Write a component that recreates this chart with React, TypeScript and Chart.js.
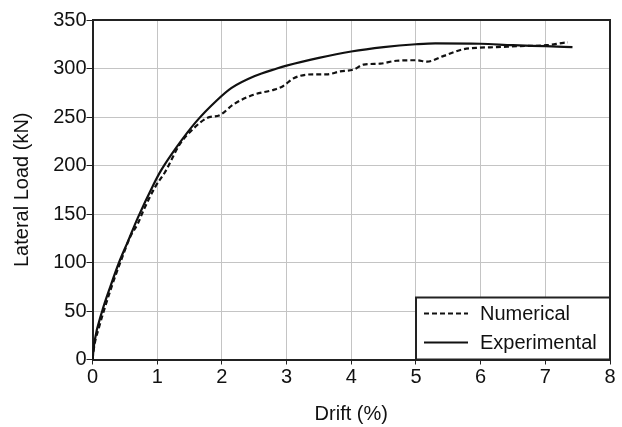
import React, { useEffect, useRef } from "react";
import { Chart, registerables } from "chart.js";

Chart.register(...registerables);

const numDrift = [0, 0.03, 0.1, 0.175, 0.3, 0.43, 0.58, 0.7, 0.79, 0.97, 1.12, 1.35, 1.56, 1.77, 1.97, 2.18, 2.49, 2.8, 2.95, 3.11, 3.42, 3.62, 3.83, 4.04, 4.19, 4.45, 4.7, 5.01, 5.17, 5.43, 5.74, 5.99, 6.25, 6.56, 7.02, 7.28, 7.35];
const numLoad = [0, 15, 33, 50, 76, 100, 126, 140, 154, 178, 193, 222, 238, 249, 252, 263, 273, 278, 282, 290, 294, 294, 297, 299, 304, 305, 308, 308.5, 307, 313, 320, 321.5, 322, 323, 324, 326.5, 327];

const expDrift = [0, 0.03, 0.15, 0.28, 0.41, 0.55, 0.7, 0.94, 1.06, 1.3, 1.6, 1.92, 2.15, 2.5, 2.85, 3.0, 3.5, 4.0, 4.5, 5.0, 5.3, 6.0, 6.5, 7.0, 7.42];
const expLoad = [0, 18, 50, 76, 100, 122, 146, 180, 195, 219, 245, 267, 280, 292, 300, 303, 311, 317.5, 322, 325, 326, 325.5, 324, 323, 322];

const seriesLabels = ["Numerical", "Experimental"];
const xTitle = "Drift (%)";
const yTitle = "Lateral Load (kN)";

const FONT = "'Liberation Sans', Arial, sans-serif";

const framePlugin = {
  id: "frame",
  afterDraw(chart: any) {
    const { ctx, chartArea: a } = chart;
    ctx.save();
    ctx.strokeStyle = "#222";
    ctx.lineWidth = 2;
    ctx.beginPath();
    ctx.moveTo(a.left, a.top);
    ctx.lineTo(a.right, a.top);
    ctx.lineTo(a.right, a.bottom);
    ctx.stroke();
    ctx.restore();
  },
};

const legendBoxPlugin = {
  id: "legendBox",
  afterDraw(chart: any) {
    const { ctx, chartArea: a } = chart;
    const w = 194;
    const h = 62;
    const x0 = a.right - w;
    const y0 = a.bottom - h;
    ctx.save();
    ctx.fillStyle = "#fff";
    ctx.fillRect(x0, y0, w, h);
    ctx.strokeStyle = "#222";
    ctx.lineWidth = 2;
    ctx.strokeRect(x0, y0, w, h);
    chart.data.datasets.forEach((ds: any, i: number) => {
      const y = y0 + 16 + i * 29;
      ctx.beginPath();
      ctx.setLineDash(ds.borderDash || []);
      ctx.lineWidth = 2;
      ctx.strokeStyle = "#111";
      ctx.moveTo(x0 + 8, y);
      ctx.lineTo(x0 + 52, y);
      ctx.stroke();
      ctx.setLineDash([]);
      ctx.fillStyle = "#111";
      ctx.font = `20px ${FONT}`;
      ctx.textBaseline = "middle";
      ctx.textAlign = "left";
      ctx.fillText(ds.label, x0 + 64, y + 1);
    });
    ctx.restore();
  },
};

export default function App() {
  const ref = useRef<HTMLCanvasElement | null>(null);
  useEffect(() => {
    if (!ref.current) return;
    const chart = new Chart(ref.current, {
      type: "scatter",
      data: {
        datasets: [
          {
            label: seriesLabels[0],
            data: numDrift.map((d, i) => ({ x: d, y: numLoad[i] })),
            showLine: true,
            borderColor: "#111",
            borderWidth: 2.2,
            borderDash: [5, 3],
            pointRadius: 0,
            cubicInterpolationMode: "monotone",
          },
          {
            label: seriesLabels[1],
            data: expDrift.map((d, i) => ({ x: d, y: expLoad[i] })),
            showLine: true,
            borderColor: "#111",
            borderWidth: 2.2,
            pointRadius: 0,
            cubicInterpolationMode: "monotone",
          },
        ],
      },
      options: {
        animation: false,
        responsive: false,
        layout: { padding: { top: 20, right: 12, left: 0, bottom: 0 } },
        plugins: { legend: { display: false }, tooltip: { enabled: false } },
        scales: {
          x: {
            type: "linear",
            min: 0,
            max: 8,
            ticks: { stepSize: 1, color: "#111", font: { family: FONT, size: 20 }, padding: 1 },
            grid: { color: "#c4c4c4", tickColor: "#222", tickLength: 5, lineWidth: 1 },
            border: { color: "#222", width: 2 },
            title: { display: true, text: xTitle, color: "#111", font: { family: FONT, size: 20 }, padding: { top: 0, bottom: 1 } },
            afterFit: (s: any) => { s.height = 67.5; },
          },
          y: {
            min: 0,
            max: 350,
            ticks: { stepSize: 50, color: "#111", font: { family: FONT, size: 20 }, padding: 0 },
            grid: { color: "#c4c4c4", tickColor: "#222", tickLength: 6, lineWidth: 1 },
            border: { color: "#222", width: 2 },
            title: { display: true, text: yTitle, color: "#111", font: { family: FONT, size: 20 }, padding: { top: 10, bottom: 0 } },
            afterFit: (s: any) => { s.width = 92.5; },
          },
        },
      },
      plugins: [framePlugin, legendBoxPlugin],
    });
    return () => chart.destroy();
  }, []);
  return (
    <div style={{ position: "absolute", left: 0, top: 0, width: 622, height: 427, background: "#fff" }}>
      <canvas ref={ref} width={622} height={427} />
    </div>
  );
}
